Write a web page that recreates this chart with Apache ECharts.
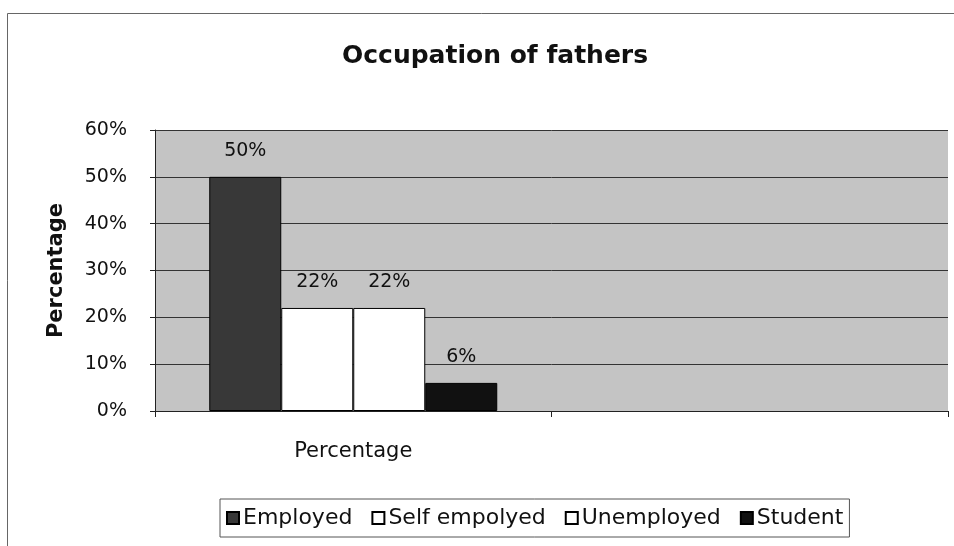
<!DOCTYPE html>
<html style="height: 100%">
<head>
    <meta charset="utf-8">
</head>
<body style="height: 100%; margin: 0; background: #fff">
<div id="container" style="width: 954px; height: 546px"></div>
<script type="text/javascript" src="https://cdn.jsdelivr.net/npm/echarts@6/dist/echarts.min.js"></script>
<script type="text/javascript">
const categories = ['Percentage', ''];
const seriesNames = ['Employed', 'Self empolyed', 'Unemployed', 'Student'];
const employed = [50, null];
const selfEmployed = [22, null];
const unemployed = [22, null];
const student = [6, null];
const seriesColors = ['#383838', '#ffffff', '#ffffff', '#111111'];

const myChart = echarts.init(document.getElementById('container'));
const font = 'DejaVu Sans, Liberation Sans, sans-serif';

function makeBar(name, data, color) {
    return {
        name: name,
        type: 'bar',
        data: data,
        barWidth: 72,
        barGap: '0%',
        itemStyle: { color: color, borderColor: '#000', borderWidth: 1 },
        label: {
            show: true,
            position: 'top',
            distance: 16,
            formatter: '{c}%',
            color: '#111',
            fontSize: 19,
            fontFamily: font
        }
    };
}

const option = {
    animation: false,
    title: {
        text: 'Occupation of fathers',
        left: 337,
        top: 39,
        textStyle: { fontSize: 25, fontWeight: 'bold', color: '#111', fontFamily: font }
    },
    graphic: [{
        type: 'rect',
        shape: { x: 7.5, y: 13.5, width: 960, height: 540 },
        style: { fill: 'none', stroke: '#666', lineWidth: 1 },
        silent: true
    }],
    legend: {
        data: seriesNames,
        left: 220,
        top: 499,
        width: 700,
        itemWidth: 12,
        itemHeight: 12,
        itemGap: 19,
        padding: [8, 6, 8, 6],
        borderColor: '#555',
        borderWidth: 1,
        icon: 'rect',
        textStyle: { fontSize: 22, color: '#111', fontFamily: font, padding: [0, 0, 0, -1] }
    },
    grid: {
        left: 155,
        right: 6,
        top: 130,
        bottom: 135,
        show: true,
        backgroundColor: '#c4c4c4',
        borderWidth: 0
    },
    xAxis: {
        type: 'category',
        data: categories,
        axisLine: { lineStyle: { color: '#222' } },
        axisTick: { show: true, length: 6, lineStyle: { color: '#222' } },
        axisLabel: { margin: 30, fontSize: 21, color: '#111', fontFamily: font }
    },
    yAxis: {
        type: 'value',
        min: 0,
        max: 60,
        interval: 10,
        name: 'Percentage',
        nameLocation: 'middle',
        nameRotate: 90,
        nameGap: 88,
        nameTextStyle: { fontSize: 21, fontWeight: 'bold', color: '#111', fontFamily: font },
        axisLine: { show: true, lineStyle: { color: '#222' } },
        axisTick: { show: true, length: 5, lineStyle: { color: '#222' } },
        axisLabel: { formatter: '{value}%', margin: 28, fontSize: 19, color: '#111', fontFamily: font },
        splitLine: { show: true, lineStyle: { color: '#333', width: 1 } }
    },
    series: [
        makeBar(seriesNames[0], employed, seriesColors[0]),
        makeBar(seriesNames[1], selfEmployed, seriesColors[1]),
        makeBar(seriesNames[2], unemployed, seriesColors[2]),
        makeBar(seriesNames[3], student, seriesColors[3])
    ]
};

myChart.setOption(option);
</script>
</body>
</html>
